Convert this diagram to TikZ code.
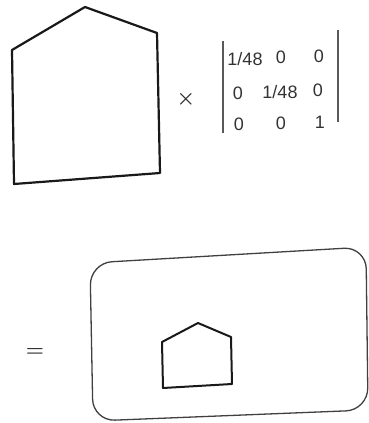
\documentclass[tikz,border=0pt]{standalone}
\usepackage{fontspec}
\setmainfont{Liberation Sans}
\begin{document}
\begin{tikzpicture}[x=1pt,y=-1pt,
  house/.style={draw=black!90,line width=2.2pt,line join=round},
  frame/.style={draw=black!75,line width=1.3pt,rounded corners=22pt},
  entry/.style={font=\fontsize{18}{20}\selectfont,text=black!80,inner sep=0pt},
  bar/.style={draw=black!65,line width=1.6pt},
  op/.style={font=\fontsize{20}{22}\selectfont\boldmath,text=black!80,inner sep=0pt}]
\useasboundingbox (0,0) rectangle (369,423);
% big house
\draw[house] (12,50) -- (85,7) -- (157,33) -- (160,173) -- (14,184) -- cycle;
% multiply sign
\node[op] (times) at (186,99) {$\times$};
% matrix bars
\coordinate (lbt) at (223,41); \coordinate (lbb) at (223,133);
\coordinate (rbt) at (338,30); \coordinate (rbb) at (338,122);
\draw[bar] (lbt) -- (lbb);
\draw[bar] (rbt) -- (rbb);
% entries
\node[entry] (a11) at (245,59) {1/48};
\node[entry] (a12) at (281,57) {0};
\node[entry] (a13) at (319,56) {0};
\node[entry] (a21) at (238,93) {0};
\node[entry] (a22) at (280,92) {1/48};
\node[entry] (a23) at (318,90) {0};
\node[entry] (a31) at (239,124) {0};
\node[entry] (a32) at (281,123) {0};
\node[entry] (a33) at (320,122) {1};
% equals
\node[op] (eq) at (35,352) {$=$};
% frame
\draw[frame] (90,263) -- (366,247) -- (368,410) -- (93,421) -- cycle;
% small house
\draw[house,line width=2pt] (162,342) -- (198,323) -- (231,337) -- (232,384) -- (163,388) -- cycle;
\end{tikzpicture}
\end{document}
